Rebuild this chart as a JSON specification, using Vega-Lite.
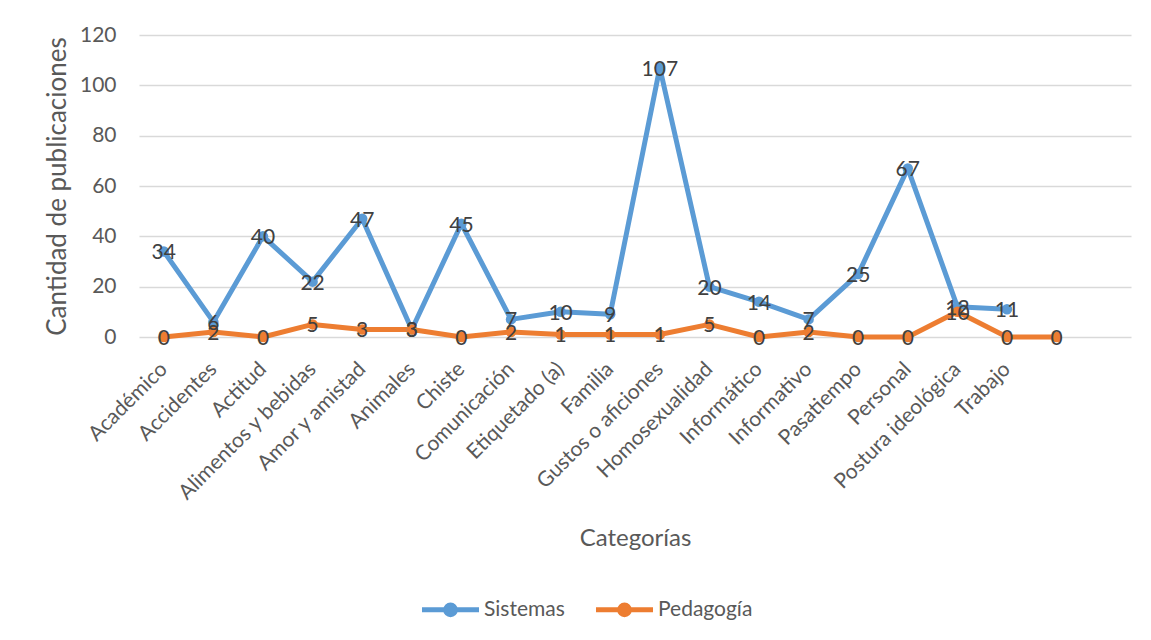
{
  "$schema": "https://vega.github.io/schema/vega-lite/v6.json",
  "width": 992,
  "height": 302,
  "autosize": {"type": "none"},
  "padding": {"left": 139, "top": 35, "right": 20, "bottom": 303},
  "background": "white",
  "config": {"view": {"stroke": null}, "font": "Lato"},
  "data": {
    "values": [
      {"categoria": "Académico", "serie": "Sistemas", "valor": 34},
      {"categoria": "Accidentes", "serie": "Sistemas", "valor": 6},
      {"categoria": "Actitud", "serie": "Sistemas", "valor": 40},
      {"categoria": "Alimentos y bebidas", "serie": "Sistemas", "valor": 22},
      {"categoria": "Amor y amistad", "serie": "Sistemas", "valor": 47},
      {"categoria": "Animales", "serie": "Sistemas", "valor": 3},
      {"categoria": "Chiste", "serie": "Sistemas", "valor": 45},
      {"categoria": "Comunicación", "serie": "Sistemas", "valor": 7},
      {"categoria": "Etiquetado (a)", "serie": "Sistemas", "valor": 10},
      {"categoria": "Familia", "serie": "Sistemas", "valor": 9},
      {"categoria": "Gustos o aficiones", "serie": "Sistemas", "valor": 107},
      {"categoria": "Homosexualidad", "serie": "Sistemas", "valor": 20},
      {"categoria": "Informático", "serie": "Sistemas", "valor": 14},
      {"categoria": "Informativo", "serie": "Sistemas", "valor": 7},
      {"categoria": "Pasatiempo", "serie": "Sistemas", "valor": 25},
      {"categoria": "Personal", "serie": "Sistemas", "valor": 67},
      {"categoria": "Postura ideológica", "serie": "Sistemas", "valor": 12},
      {"categoria": "Trabajo", "serie": "Sistemas", "valor": 11},
      {"categoria": "Académico", "serie": "Pedagogía", "valor": 0},
      {"categoria": "Accidentes", "serie": "Pedagogía", "valor": 2},
      {"categoria": "Actitud", "serie": "Pedagogía", "valor": 0},
      {"categoria": "Alimentos y bebidas", "serie": "Pedagogía", "valor": 5},
      {"categoria": "Amor y amistad", "serie": "Pedagogía", "valor": 3},
      {"categoria": "Animales", "serie": "Pedagogía", "valor": 3},
      {"categoria": "Chiste", "serie": "Pedagogía", "valor": 0},
      {"categoria": "Comunicación", "serie": "Pedagogía", "valor": 2},
      {"categoria": "Etiquetado (a)", "serie": "Pedagogía", "valor": 1},
      {"categoria": "Familia", "serie": "Pedagogía", "valor": 1},
      {"categoria": "Gustos o aficiones", "serie": "Pedagogía", "valor": 1},
      {"categoria": "Homosexualidad", "serie": "Pedagogía", "valor": 5},
      {"categoria": "Informático", "serie": "Pedagogía", "valor": 0},
      {"categoria": "Informativo", "serie": "Pedagogía", "valor": 2},
      {"categoria": "Pasatiempo", "serie": "Pedagogía", "valor": 0},
      {"categoria": "Personal", "serie": "Pedagogía", "valor": 0},
      {"categoria": "Postura ideológica", "serie": "Pedagogía", "valor": 10},
      {"categoria": "Trabajo", "serie": "Pedagogía", "valor": 0},
      {"categoria": " ", "serie": "Pedagogía", "valor": 0}
    ]
  },
  "encoding": {
    "x": {
      "field": "categoria",
      "type": "nominal",
      "sort": null,
      "scale": {
        "type": "point",
        "padding": 0.5,
        "domain": ["Académico", "Accidentes", "Actitud", "Alimentos y bebidas", "Amor y amistad", "Animales", "Chiste", "Comunicación", "Etiquetado (a)", "Familia", "Gustos o aficiones", "Homosexualidad", "Informático", "Informativo", "Pasatiempo", "Personal", "Postura ideológica", "Trabajo", " ", "  "]
      },
      "axis": {
        "title": "Categorías",
        "titleFontSize": 24,
        "titleFontWeight": "normal",
        "titleColor": "#595959",
        "titleY": 208,
        "titleBaseline": "alphabetic",
        "labelAngle": -45,
        "labelAlign": "right",
        "labelBaseline": "top",
        "labelFontSize": 21,
        "labelColor": "#595959",
        "labelPadding": 21,
        "labelOffset": -8,
        "labelLimit": 400,
        "ticks": false,
        "domain": false,
        "grid": false
      }
    },
    "y": {
      "field": "valor",
      "type": "quantitative",
      "scale": {"domain": [0, 120], "nice": false},
      "axis": {
        "title": "Cantidad de publicaciones",
        "titleFontSize": 26,
        "titleFontWeight": "normal",
        "titleColor": "#595959",
        "titlePadding": 9,
        "labelFontSize": 21,
        "labelColor": "#595959",
        "labelPadding": 23,
        "values": [0, 20, 40, 60, 80, 100, 120],
        "ticks": false,
        "domain": false,
        "gridColor": "#D9D9D9",
        "gridWidth": 1.5
      }
    },
    "color": {
      "field": "serie",
      "type": "nominal",
      "scale": {"domain": ["Sistemas", "Pedagogía"], "range": ["#5B9BD5", "#ED7D31"]},
      "legend": {
        "title": null,
        "orient": "none",
        "legendX": 280,
        "legendY": 543,
        "direction": "horizontal",
        "symbolType": "M-1,0L1,0M-0.17,0A0.17,0.17,0,1,1,0.17,0A0.17,0.17,0,1,1,-0.17,0",
        "symbolSize": 3250,
        "symbolStrokeWidth": 5,
        "labelFontSize": 21,
        "labelColor": "#595959",
        "labelOffset": 2,
        "columnPadding": 20
      }
    }
  },
  "layer": [
    {"mark": {"type": "line", "strokeWidth": 5, "strokeJoin": "round"}},
    {"mark": {"type": "point", "filled": true, "size": 110, "opacity": 1}},
    {
      "mark": {"type": "text", "fontSize": 21, "color": "#404040", "dy": 2},
      "encoding": {"text": {"field": "valor", "type": "quantitative"}, "color": {"value": "#404040"}}
    }
  ]
}
